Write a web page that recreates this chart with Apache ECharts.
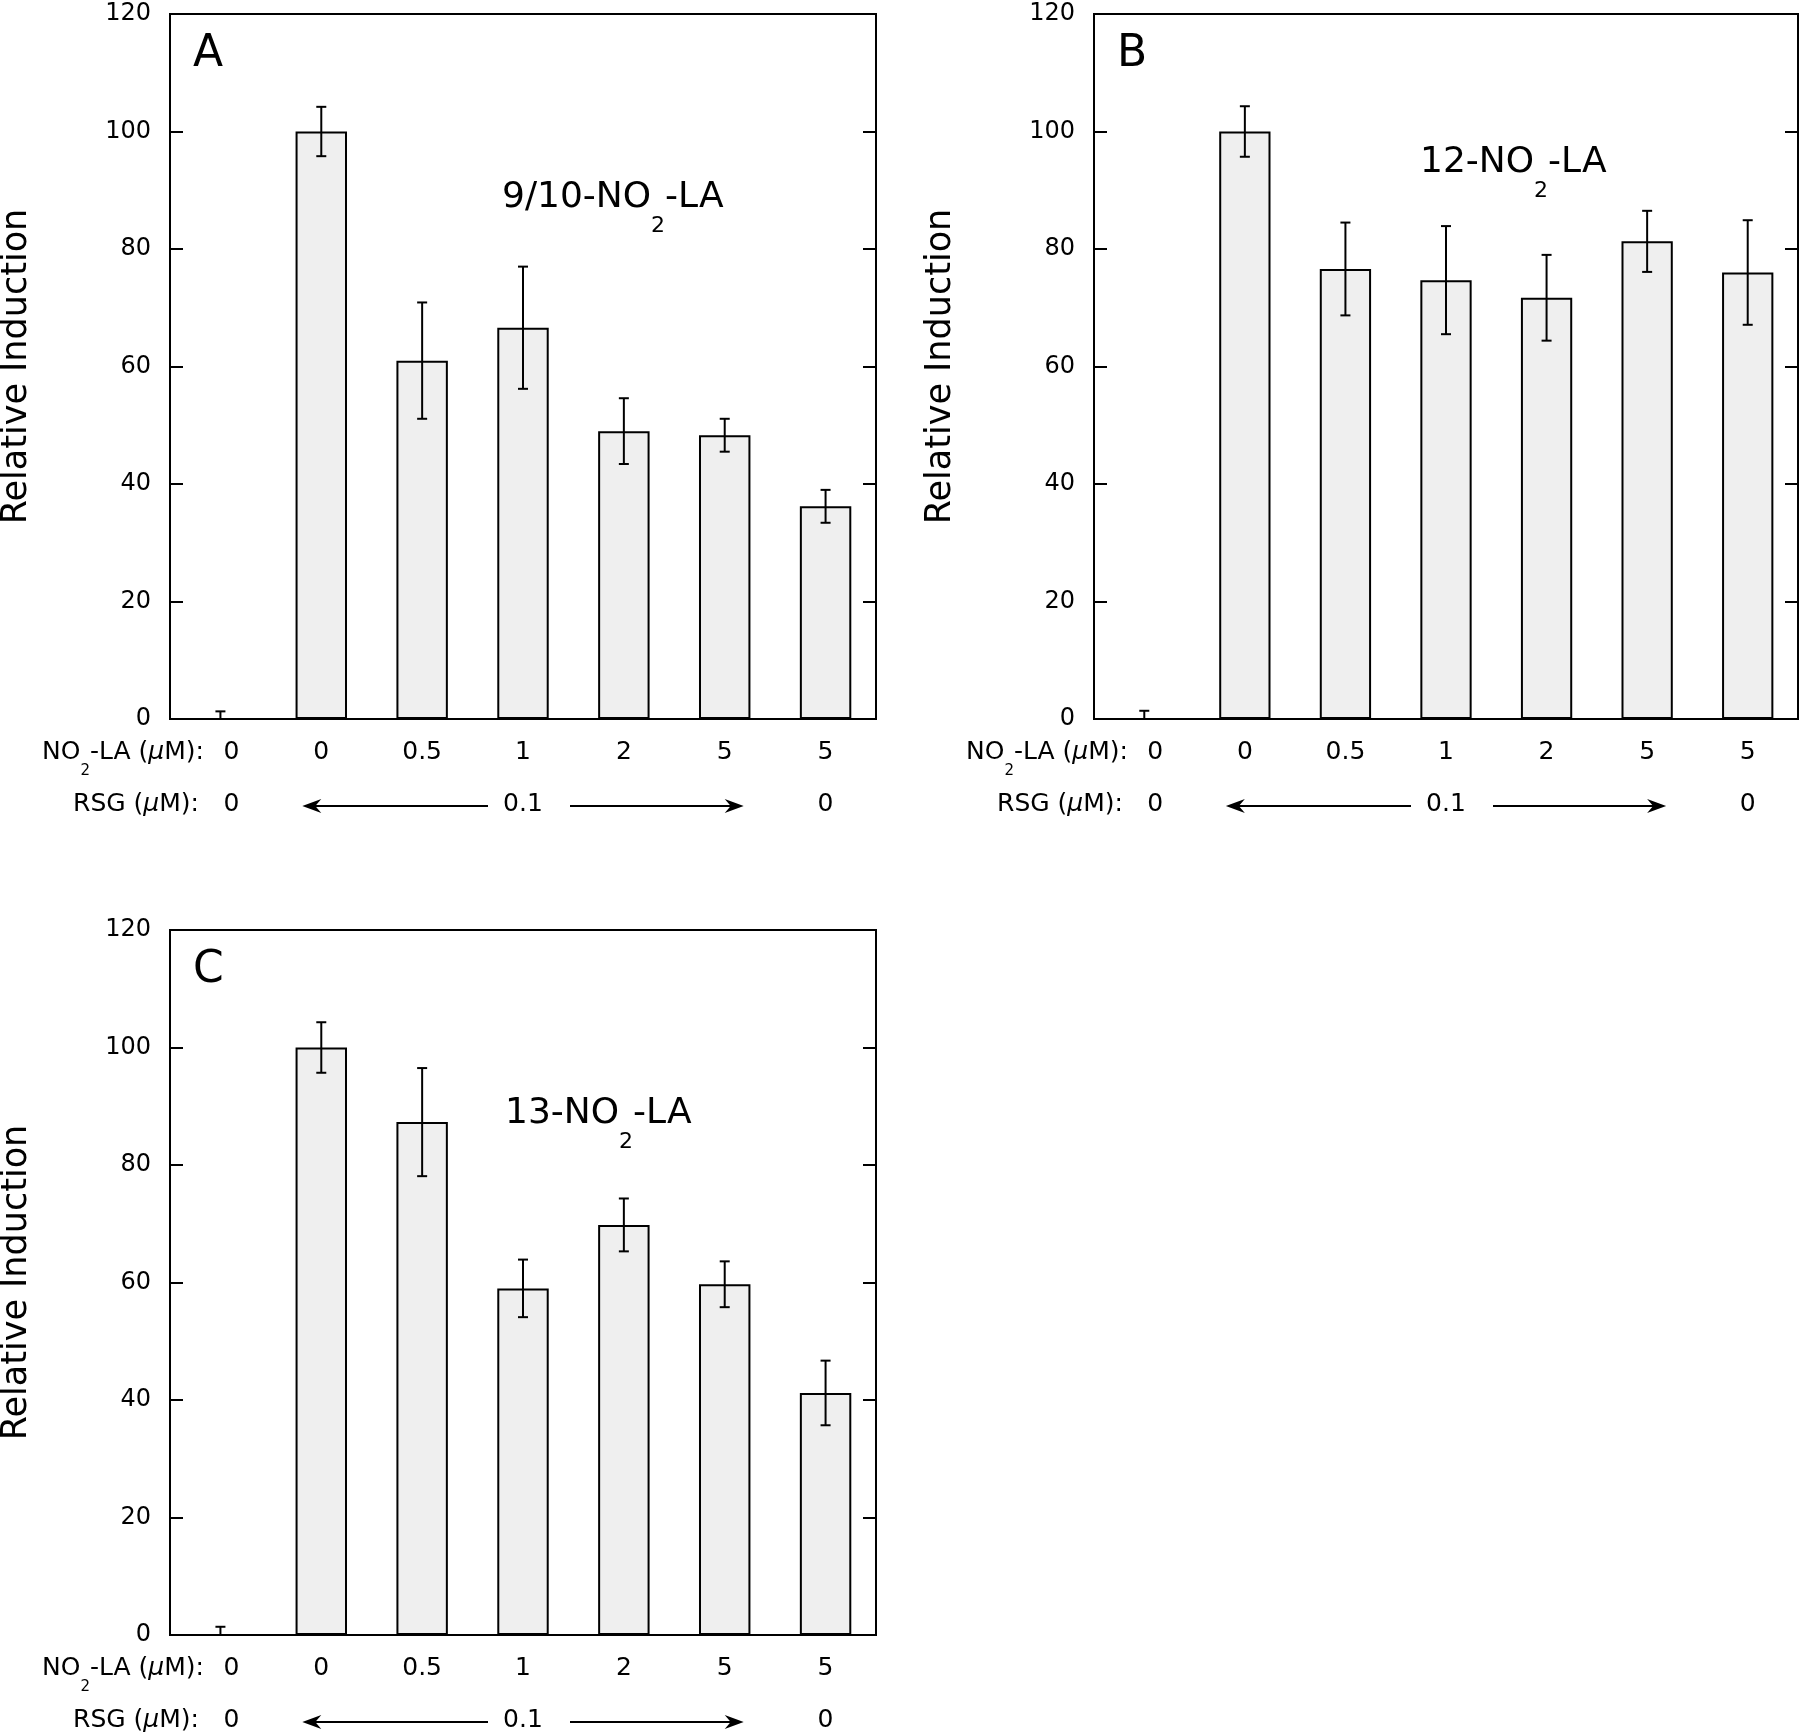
<!DOCTYPE html>
<html><head><meta charset="utf-8">
<script src="https://cdn.jsdelivr.net/npm/echarts@6/dist/echarts.min.js"></script>
<style>html,body{margin:0;padding:0;background:#fff}#c{width:1800px;height:1732px}</style>
</head><body><div id="c"></div>
<script>
// ---------- data ----------
const nitroLabels = ['0', '0', '0.5', '1', '2', '5', '5'];
const rsgLabels = ['0', '', '', '0.1', '', '', '0'];
const yTicks = [0, 20, 40, 60, 80, 100, 120];
const panelLetters = ['A', 'B', 'C'];
const compoundPrefix = ['9/10', '12', '13'];
const valuesA = [0, 100, 61.0, 66.6, 49.0, 48.3, 36.2];
const errorsA = [1.3, 4.2, 9.9, 10.4, 5.6, 2.8, 2.8];
const valuesB = [0, 100, 76.6, 74.7, 71.7, 81.3, 76.0];
const errorsB = [1.4, 4.3, 7.9, 9.2, 7.3, 5.2, 8.9];
const valuesC = [0, 100, 87.3, 59.0, 69.8, 59.7, 41.2];
const errorsC = [1.4, 4.3, 9.2, 4.9, 4.5, 3.9, 5.5];

// ---------- layout / style ----------
const FONT = 'DejaVu Sans';
const layout = [
  {left: 170, top: 14, width: 706, height: 705, nameDx: 332, nameDy: 166},
  {left: 1094, top: 14, width: 704, height: 705, nameDx: 326, nameDy: 131},
  {left: 170, top: 930, width: 706, height: 705, nameDx: 335, nameDy: 166}
];
const panels = [
  {values: valuesA, errors: errorsA},
  {values: valuesB, errors: errorsB},
  {values: valuesC, errors: errorsC}
];

const chart = echarts.init(document.getElementById('c'), null, {renderer: 'canvas'});
const option = {animation: false, backgroundColor: '#fff', grid: [], xAxis: [], yAxis: [], series: []};

function catLabel(margin) {
  return {
    interval: 0, margin: margin, fontSize: 25, fontFamily: FONT, color: '#000',
    formatter: (v, i) => i === 0 ? '{f|' + v + '}' : v,
    rich: {f: {padding: [0, 0, 0, 22], fontSize: 25, fontFamily: FONT, color: '#000'}}
  };
}

panels.forEach((p, i) => {
  const L = layout[i];
  option.grid.push({left: L.left, top: L.top, width: L.width, height: L.height,
    show: true, borderColor: '#000', borderWidth: 2, backgroundColor: 'transparent',
    containLabel: false, outerBoundsMode: 'none'});
  option.xAxis.push({gridIndex: i, type: 'category', data: nitroLabels, position: 'bottom',
    axisLine: {show: false}, axisTick: {show: false}, axisLabel: catLabel(21)});
  option.xAxis.push({gridIndex: i, type: 'category', data: rsgLabels, position: 'bottom', offset: 52,
    axisLine: {show: false}, axisTick: {show: false}, axisLabel: catLabel(21)});
  const yBase = {gridIndex: i, type: 'value', min: yTicks[0], max: yTicks[yTicks.length - 1],
    interval: yTicks[1] - yTicks[0], splitLine: {show: false}, axisLine: {show: false},
    axisTick: {show: true, inside: true, length: 13, lineStyle: {color: '#000', width: 2}}};
  option.yAxis.push(Object.assign({}, yBase, {position: 'left',
    name: 'Relative Induction', nameLocation: 'middle', nameGap: 136,
    nameTextStyle: {fontSize: 35, fontFamily: FONT, color: '#000'},
    axisLabel: {margin: 19, fontSize: 24, fontFamily: FONT, color: '#000'}}));
  option.yAxis.push(Object.assign({}, yBase, {position: 'right', axisLabel: {show: false}}));
  option.series.push({type: 'bar', xAxisIndex: 2 * i, yAxisIndex: 2 * i, data: p.values,
    barWidth: '51%', z: 2,
    itemStyle: {color: '#efefef', borderColor: '#000', borderWidth: 2}});
  option.series.push({type: 'custom', xAxisIndex: 2 * i, yAxisIndex: 2 * i, z: 3, clip: true,
    data: p.values.map((v, k) => [k, v - p.errors[k], v + p.errors[k]]),
    renderItem: (params, api) => {
      const lo = api.coord([api.value(0), api.value(1)]);
      const hi = api.coord([api.value(0), api.value(2)]);
      const hw = 5;
      const st = {stroke: '#000', lineWidth: 2, fill: null};
      return {type: 'group', children: [
        {type: 'line', shape: {x1: hi[0], y1: hi[1], x2: lo[0], y2: lo[1]}, style: st},
        {type: 'line', shape: {x1: hi[0] - hw, y1: hi[1], x2: hi[0] + hw, y2: hi[1]}, style: st},
        {type: 'line', shape: {x1: lo[0] - hw, y1: lo[1], x2: lo[0] + hw, y2: lo[1]}, style: st}
      ]};
    }});
});
chart.setOption(option);

// ---------- annotations ----------
const gfx = [];
panels.forEach((p, i) => {
  const L = layout[i];
  const bottom = L.top + L.height;
  const cx = k => chart.convertToPixel({xAxisIndex: 2 * i}, k);
  // panel letter
  gfx.push({type: 'text', x: L.left + 23, y: L.top + 19, z: 10,
    style: {text: panelLetters[i], fontSize: 44, fontFamily: FONT, fill: '#000', verticalAlign: 'top', align: 'left'}});
  // compound name
  gfx.push({type: 'text', x: L.left + L.nameDx, y: L.top + L.nameDy, z: 10,
    style: {text: '{m|' + compoundPrefix[i] + '-NO}{s|2}{m|-LA}', verticalAlign: 'top', align: 'left',
      rich: {
        m: {fontSize: 36, lineHeight: 36, fontFamily: FONT, fill: '#000', verticalAlign: 'top'},
        s: {fontSize: 22, lineHeight: 22, fontFamily: FONT, fill: '#000', verticalAlign: 'top', padding: [35, 0, 0, 0]}
      }}});
  // row prefixes
  gfx.push({type: 'text', x: L.left + 34, y: bottom + 21, z: 10,
    style: {text: '{m|NO}{s|2}{m|-LA (}{i|\u03bc}{m|M):}', verticalAlign: 'top', align: 'right',
      rich: {
        m: {fontSize: 25, lineHeight: 25, fontFamily: FONT, fill: '#000', verticalAlign: 'top'},
        i: {fontSize: 25, lineHeight: 25, fontFamily: FONT, fontStyle: 'italic', fill: '#000', verticalAlign: 'top'},
        s: {fontSize: 15, lineHeight: 15, fontFamily: FONT, fill: '#000', verticalAlign: 'top', padding: [24, 0, 0, 0]}
      }}});
  gfx.push({type: 'text', x: L.left + 29, y: bottom + 73, z: 10,
    style: {text: '{m|RSG (}{i|\u03bc}{m|M):}', verticalAlign: 'top', align: 'right',
      rich: {
        m: {fontSize: 25, lineHeight: 25, fontFamily: FONT, fill: '#000', verticalAlign: 'top'},
        i: {fontSize: 25, lineHeight: 25, fontFamily: FONT, fontStyle: 'italic', fill: '#000', verticalAlign: 'top'}
      }}});
  // arrows
  const ay = bottom + 87;
  const lt = cx(1) - 19, le = cx(3) - 35;
  const rs = cx(3) + 47, rt = cx(5) + 19;
  const ls = {stroke: '#000', lineWidth: 2};
  gfx.push({type: 'line', z: 10, shape: {x1: lt + 10, y1: ay, x2: le, y2: ay}, style: ls});
  gfx.push({type: 'polygon', z: 10, shape: {points: [[lt, ay], [lt + 19, ay - 7], [lt + 13, ay], [lt + 19, ay + 7]]}, style: {fill: '#000'}});
  gfx.push({type: 'line', z: 10, shape: {x1: rs, y1: ay, x2: rt - 10, y2: ay}, style: ls});
  gfx.push({type: 'polygon', z: 10, shape: {points: [[rt, ay], [rt - 19, ay - 7], [rt - 13, ay], [rt - 19, ay + 7]]}, style: {fill: '#000'}});
});
chart.setOption({graphic: gfx});
</script>
</body></html>
